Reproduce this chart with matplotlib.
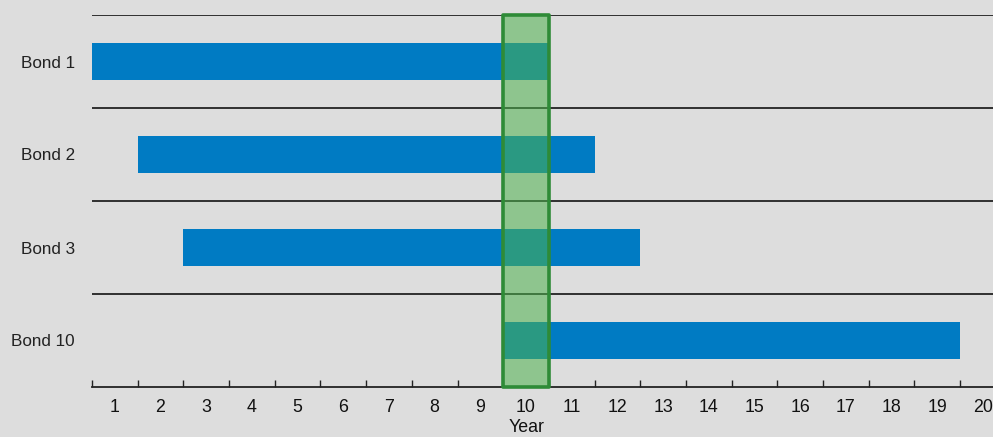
import matplotlib
matplotlib.use("Agg")
import matplotlib.pyplot as plt
from matplotlib.patches import Rectangle

plt.rcParams['font.family'] = ['Liberation Sans', 'DejaVu Sans']

bonds = ["Bond 1", "Bond 2", "Bond 3", "Bond 10"]
start_year = [1, 2, 3, 10]
end_year = [10, 11, 12, 19]
years = list(range(1, 21))
highlight_year = 10

BG = "#dddddd"
BLUE = "#007bc3"
GREEN_FILL = (0.30, 0.70, 0.30)
GREEN_EDGE = "#2e8b37"

fig = plt.figure(figsize=(9.93, 4.37), dpi=100, facecolor=BG)
ax = fig.add_axes([92/993, 50/437, 1 - 92/993, 372/437])
ax.set_facecolor(BG)

n = len(bonds)
ax.set_xlim(0.5, 20.22)
ax.set_ylim(0, n)

# row separator lines
for i in range(n):
    ax.axhline(n - i, color="#222222", lw=1.3, zorder=1)

# bars
for i, (b, s, e) in enumerate(zip(bonds, start_year, end_year)):
    yc = n - i - 0.5
    ax.barh(yc, e - s + 1, left=s - 0.5, height=0.4, color=BLUE, zorder=2)

# highlight
ax.add_patch(Rectangle((highlight_year - 0.5, 0), 1, n, facecolor=GREEN_FILL,
                       alpha=0.55, edgecolor="none", zorder=3, clip_on=False))
ax.add_patch(Rectangle((highlight_year - 0.5, 0), 1, n, facecolor="none",
                       edgecolor=GREEN_EDGE, lw=2.6, joinstyle="round",
                       zorder=4, clip_on=False))

# y labels
ax.set_yticks([n - i - 0.5 for i in range(n)])
ax.set_yticklabels(bonds, fontsize=12.3, color="#222222")
ax.tick_params(axis="y", length=0, pad=12.5)

# x axis
ax.set_xticks([y - 0.5 for y in years])
ax.set_xticklabels([])
ax.set_xticks(years, minor=True)
ax.set_xticklabels([str(y) for y in years], minor=True, fontsize=12.8, color="#111111")
ax.tick_params(axis="x", which="major", direction="in", length=5, width=1, color="#222222")
ax.tick_params(axis="x", which="minor", length=0, pad=9)

for s in ["top", "right", "left"]:
    ax.spines[s].set_visible(False)
ax.spines["bottom"].set_color("#222222")
ax.spines["bottom"].set_linewidth(1.3)

fig.text(527/993, 1 - 428/437, "Year", ha="center", va="center", fontsize=12.8, color="#111111")

fig.savefig("out.png", dpi=100, facecolor=BG)
